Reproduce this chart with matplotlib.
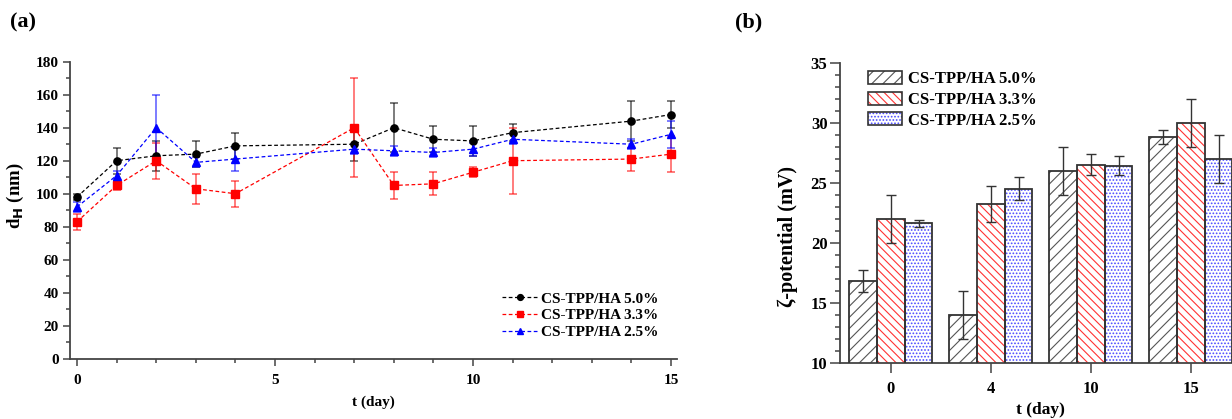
import matplotlib
matplotlib.use("Agg")
import matplotlib.pyplot as plt
from matplotlib.patches import Patch
from matplotlib.lines import Line2D
from matplotlib.legend_handler import HandlerTuple
from matplotlib.ticker import MultipleLocator
import numpy as np

plt.rcParams['font.family'] = ['Liberation Serif', 'DejaVu Serif']
plt.rcParams['font.weight'] = 'bold'
plt.rcParams['hatch.linewidth'] = 0.8

# ---------------- data (a) ----------------
days = [0, 1, 2, 3, 4, 7, 8, 9, 10, 11, 14, 15]
labels = ['CS-TPP/HA 5.0%', 'CS-TPP/HA 3.3%', 'CS-TPP/HA 2.5%']
d_50 = [98, 120, 123, 124, 129, 130, 140, 133, 132, 137, 144, 148]
e_50 = [2, 8, 9, 8, 8, 10, 15, 8, 9, 5, 12, 8]
d_33 = [83, 105, 120, 103, 100, 140, 105, 106, 113, 120, 121, 124]
e_33 = [5, 3, 11, 9, 8, 30, 8, 7, 3, 20, 7, 11]
d_25 = [92, 111, 140, 119, 121, 127, 126, 125, 127, 133, 130, 136]
e_25 = [3, 3, 20, 3, 7, 3, 3, 3, 4, 3, 3, 8]

# ---------------- data (b) ----------------
groups = ['0', '4', '10', '15']
z_50 = [16.8, 14.0, 26.0, 28.8]
ze_50 = [0.9, 2.0, 2.0, 0.6]
z_33 = [22.0, 23.2, 26.5, 30.0]
ze_33 = [2.0, 1.5, 0.9, 2.0]
z_25 = [21.6, 24.5, 26.4, 27.0]
ze_25 = [0.3, 0.95, 0.8, 2.0]

fig = plt.figure(figsize=(12.32, 4.19), dpi=100)

spine_c = '#444444'

def style_axes(ax):
    for s in ['top', 'right']:
        ax.spines[s].set_visible(False)
    for s in ['left', 'bottom']:
        ax.spines[s].set_linewidth(1.3)
        ax.spines[s].set_color(spine_c)
    ax.tick_params(which='both', direction='out', color=spine_c, width=1.1)

# ---------------- panel (a) ----------------
axa = fig.add_axes([70/1232, 0.1439, 607/1232, 0.7088])
style_axes(axa)
series = [(d_50, e_50, 'black', 'o', 5.2),
          (d_33, e_33, 'red', 's', 5.2),
          (d_25, e_25, 'blue', '^', 5.2)]
leg_handles = []
for (vals, errs, c, m, ms), lab in zip(series, labels):
    eb = axa.errorbar(days, vals, yerr=errs, fmt=m, color=c, ms=ms,
                      ecolor=c, elinewidth=1.2, capsize=3, capthick=1.2,
                      linestyle=(0, (3, 2)), linewidth=0.9)
    for coll in eb[2]:
        coll.set_alpha(0.6)
    for cap in eb[1]:
        cap.set_alpha(0.6)
    leg_handles.append(Line2D([], [], color=c, marker=m, ms=4.2,
                              linestyle=(0, (3, 2)), linewidth=0.9))

axa.set_xlim(-0.177, 15.15)
axa.set_ylim(0, 180)
axa.xaxis.set_major_locator(MultipleLocator(5))
axa.xaxis.set_minor_locator(MultipleLocator(1))
axa.yaxis.set_major_locator(MultipleLocator(20))
axa.yaxis.set_minor_locator(MultipleLocator(10))
axa.tick_params(which='major', length=5, labelsize=11, pad=3)
axa.tick_params(which='minor', length=3)
axa.tick_params(axis='x', which='major', pad=6)
for t in axa.get_xticklabels() + axa.get_yticklabels():
    t.set_fontweight('bold')
axa.set_xlabel('t (day)', fontsize=11, fontweight='bold', labelpad=6)
axa.set_ylabel(r'd$_\mathbf{H}$ (nm)', fontsize=13.5, fontweight='bold')
axa.yaxis.set_label_coords(-0.072, 0.55)
axa.legend(leg_handles, labels, loc='lower right', bbox_to_anchor=(0.985, 0.035),
           frameon=False, fontsize=11, handlelength=2.4, handletextpad=0.2,
           labelspacing=0.2, borderaxespad=0.2)
fig.text(23/1232, 1 - 22/419, '(a)', fontsize=16, fontweight='bold',
         ha='center', va='center')

# ---------------- panel (b) ----------------
axb = fig.add_axes([840/1232, 0.1344, 400.7/1232, 0.716])
style_axes(axb)
x = np.arange(len(groups))
w = 0.278
bar_specs = [(z_50, ze_50, '#555555', '///'),
             (z_33, ze_33, '#ff3333', '\\\\\\\\'),
             (z_25, ze_25, '#4a4aff', '.....')]
handles = []
for i, ((vals, errs, hc, hatch), lab) in enumerate(zip(bar_specs, labels)):
    xs = x + (i - 1) * w
    axb.bar(xs, vals, width=w, bottom=0, facecolor='white', edgecolor=hc,
            hatch=hatch, linewidth=0, zorder=2)
    axb.bar(xs, vals, width=w, fill=False, edgecolor='#333333',
            linewidth=1.3, zorder=3)
    axb.errorbar(xs, vals, yerr=errs, fmt='none', ecolor='#333333',
                 elinewidth=1.0, capsize=3.5, capthick=1.0, zorder=4)
    p1 = Patch(facecolor='white', edgecolor=hc, hatch=hatch, linewidth=0)
    p2 = Patch(fill=False, edgecolor='#333333', linewidth=1.2)
    handles.append((p1, p2))

axb.set_xlim(-0.507, 3.5)
axb.set_ylim(10, 35)
axb.set_xticks(x)
axb.set_xticklabels(groups)
axb.yaxis.set_major_locator(MultipleLocator(5))
axb.yaxis.set_minor_locator(MultipleLocator(1))
axb.tick_params(which='major', length=7, labelsize=12, pad=2)
axb.tick_params(which='minor', length=3.5)
axb.tick_params(axis='x', which='major', pad=6)
for t in axb.get_xticklabels() + axb.get_yticklabels():
    t.set_fontweight('bold')
axb.set_xlabel('t (day)', fontsize=12.5, fontweight='bold', labelpad=4)
axb.set_ylabel('ζ-potential (mV)', fontsize=14.5, fontweight='bold')
axb.yaxis.set_label_coords(-0.105, 0.42)
axb.legend(handles, labels, handler_map={tuple: HandlerTuple(ndivide=1)},
           loc='upper left', bbox_to_anchor=(0.05, 1.0), frameon=False,
           fontsize=12, handlelength=2.0, handleheight=0.85,
           handletextpad=0.4, labelspacing=0.25, borderaxespad=0.1)
fig.text(749/1232, 1 - 22/419, '(b)', fontsize=16, fontweight='bold',
         ha='center', va='center')

fig.savefig('out.png', dpi=100)
